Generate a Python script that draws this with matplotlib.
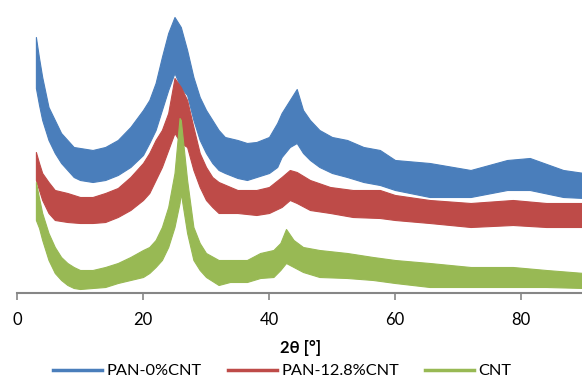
import numpy as np
import matplotlib.pyplot as plt
from matplotlib.lines import Line2D

plt.rcParams['font.family'] = ['Lato', 'DejaVu Sans']

# 2theta positions [deg] and band edges (upper / lower) of each noisy pattern, in a.u.
tt_pan0 = [3.0, 3.5, 4, 5, 6, 7, 8, 9, 10, 12, 14, 16, 18, 20, 21, 22, 23, 24, 25,
           26, 27, 28, 29, 30, 31, 32, 33, 35, 36.5, 38, 40, 41.3, 42, 43.3, 44.4,
           45.4, 46.5, 48, 50, 52.4, 55, 57.6, 60, 65.5, 72, 77.8, 81.4, 86.7, 90]
pan0_hi = [256, 235, 216, 186, 173, 160, 153, 146, 145, 143, 146, 153, 166, 183, 193,
           210, 236, 260, 276, 266, 243, 216, 196, 183, 173, 163, 156, 153, 150, 151,
           156, 170, 180, 193, 204, 183, 173, 163, 156, 153, 146, 143, 133, 130, 123,
           133, 135, 123, 120]
pan0_lo = [205, 188, 173, 153, 140, 130, 123, 116, 113, 111, 113, 118, 126, 138, 150,
           163, 183, 203, 220, 205, 198, 173, 153, 140, 130, 123, 120, 115, 113, 116,
           120, 126, 136, 146, 150, 140, 133, 126, 120, 116, 111, 108, 103, 96, 96,
           103, 103, 96, 95]

tt_pan128 = [3.0, 3.5, 4, 5, 6, 8, 10, 12, 14, 16, 18, 20, 21, 22, 23, 24, 25, 26,
             27, 28, 29, 30, 31, 32, 35, 38, 40, 42, 43.3, 44.4, 46.5, 49.7, 53.3,
             57.6, 60, 65.5, 72, 78.7, 84, 90]
pan128_hi = [141, 130, 120, 111, 103, 100, 96, 96, 100, 105, 116, 130, 140, 153, 163,
             180, 215, 206, 193, 166, 140, 126, 116, 111, 103, 103, 106, 116, 123, 121,
             113, 106, 103, 103, 98, 93, 90, 93, 90, 90]
pan128_lo = [113, 103, 93, 80, 73, 71, 70, 70, 71, 76, 83, 93, 100, 113, 126, 143, 160,
             150, 146, 123, 106, 93, 86, 80, 80, 78, 80, 86, 93, 90, 83, 80, 76, 75,
             73, 70, 66, 68, 66, 66]

tt_cnt = [3.0, 3.5, 4, 5, 6, 7, 8, 9, 10, 12, 14, 16, 18, 20, 21, 22, 23, 24, 25,
          25.8, 26, 27, 28, 29, 30, 32, 33.8, 36.5, 38.6, 40.7, 41.8, 42.7, 43.9,
          45.4, 48, 52.4, 56.5, 60, 65.5, 72, 78.7, 84, 90]
cnt_hi = [111, 95, 80, 60, 46, 36, 30, 26, 23, 23, 26, 30, 36, 43, 46, 53, 66, 86, 120,
          175, 173, 113, 66, 50, 40, 33, 33, 33, 40, 43, 50, 64, 53, 46, 43, 40, 36, 33,
          30, 26, 26, 23, 20]
cnt_lo = [73, 65, 53, 33, 20, 13, 8, 5, 4, 5, 6, 10, 13, 16, 20, 26, 33, 46, 66, 90,
          100, 60, 33, 23, 16, 8, 11, 11, 15, 16, 23, 30, 26, 21, 16, 15, 13, 10, 6, 6,
          6, 6, 5]

labels = ['PAN-0%CNT', 'PAN-12.8%CNT', 'CNT']
colors = ['#4a7ebb', '#be4b48', '#98b954']
xticks = [0, 20, 40, 60, 80]

fig = plt.figure(figsize=(5.82, 3.81), dpi=100)
ax = fig.add_axes([17 / 582, 88 / 381, 567 / 582, 293 / 381])

series = [(tt_pan0, pan0_hi, pan0_lo),
          (tt_pan128, pan128_hi, pan128_lo),
          (tt_cnt, cnt_hi, cnt_lo)]
for (tt, hi, lo), c in zip(series, colors):
    ax.fill_between(tt, lo, hi, color=c, lw=0.8, edgecolor=c)

ax.set_xlim(0, 90)
ax.set_ylim(0, 293)
ax.set_yticks([])
ax.set_xticks(xticks)
ax.tick_params(axis='x', direction='out', length=5, width=1.2, color='#868686',
               labelsize=12, pad=9)
for s in ['top', 'right', 'left']:
    ax.spines[s].set_visible(False)
ax.spines['bottom'].set_color('#868686')
ax.spines['bottom'].set_linewidth(1.5)
ax.set_xlabel('2θ [°]', fontsize=12, fontweight='bold', labelpad=8)

handles = [Line2D([], [], color=c, lw=2.5) for c in colors]
fig.legend(handles, labels, loc='center', bbox_to_anchor=(0.485, 0.026), ncol=3,
           frameon=False, fontsize=11.8, handlelength=3.0, handletextpad=0.25,
           columnspacing=1.6, borderpad=0, borderaxespad=0)

fig.savefig('out.png', dpi=100)
